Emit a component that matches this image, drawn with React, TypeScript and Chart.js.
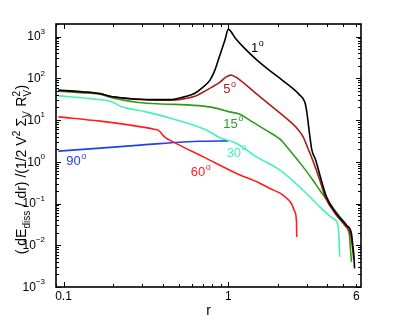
import React, { useEffect, useRef } from 'react';
import { Chart, registerables } from 'chart.js';

Chart.register(...registerables);

// ---- data ----
const r1 = [0.093, 0.126, 0.167, 0.192, 0.237, 0.335, 0.443, 0.546, 0.628, 0.703, 0.775, 0.83, 0.878, 0.916, 0.955, 1.0, 1.114, 1.262, 1.472, 1.74, 2.145, 2.72, 2.916, 3.0, 3.13, 3.22, 3.4, 3.6, 3.95, 4.54, 5.22, 5.6, 5.72, 5.8, 5.85];
const v1 = [52, 48, 43, 37, 33.5, 30.8, 30.8, 36.4, 44, 61.5, 90.6, 157, 305, 501, 824, 1490, 871, 515, 289, 166, 88, 39.5, 26.9, 15.5, 4.1, 1.9, 1.09, 0.48, 0.144, 0.0575, 0.03, 0.019, 0.0091, 0.0053, 0.0028];

const r5 = [0.093, 0.126, 0.167, 0.192, 0.237, 0.335, 0.443, 0.546, 0.628, 0.706, 0.796, 0.891, 0.968, 1.04, 1.11, 1.18, 1.472, 1.919, 2.366, 2.645, 2.85, 3.05, 3.2, 3.43, 3.6, 3.91, 4.49, 5.16, 5.54, 5.69, 5.78];
const v5 = [51, 47, 42.5, 36.5, 33, 30.3, 30, 32.6, 37, 47, 61.5, 81, 107, 119, 107, 91, 43.7, 18.5, 9.3, 6.05, 3.95, 2.08, 1.31, 0.63, 0.36, 0.134, 0.0553, 0.0286, 0.0174, 0.0085, 0.0046];

const r15 = [0.093, 0.126, 0.163, 0.205, 0.285, 0.386, 0.475, 0.706, 0.866, 1.02, 1.177, 1.411, 1.693, 2.06, 2.36, 2.85, 3.27, 3.6, 4.13, 4.75, 5.33, 5.46, 5.53, 5.6];
const v15 = [49, 45, 42, 33, 26.4, 24.3, 23.7, 21.5, 18.8, 15.7, 13.8, 8.9, 5.73, 3.48, 1.9, 0.755, 0.36, 0.208, 0.1, 0.048, 0.025, 0.0158, 0.0076, 0.004];

const r30 = [0.093, 0.145, 0.196, 0.226, 0.313, 0.475, 0.74, 0.891, 1.124, 1.486, 2.06, 2.85, 3.6, 4.33, 4.64, 4.7, 4.75];
const v30 = [38, 32.6, 27.4, 20.7, 15.9, 10.3, 5.7, 3.78, 2.75, 1.31, 0.63, 0.208, 0.083, 0.0437, 0.03, 0.0158, 0.0053];

const r60 = [0.093, 0.167, 0.254, 0.36, 0.375, 0.386, 0.41, 0.475, 0.706, 1.124, 1.556, 1.79, 2.06, 2.15, 2.42, 2.54, 2.6, 2.605];
const v60 = [11.9, 9.4, 7.55, 5.96, 5.73, 5.2, 3.96, 2.84, 1.31, 0.524, 0.307, 0.229, 0.177, 0.158, 0.1, 0.063, 0.033, 0.0158];

const r90 = [0.093, 0.167, 0.292, 0.475, 0.674, 1.0];
const v90 = [1.8, 2.12, 2.5, 2.9, 3.1, 3.17];

const seriesNames = ['1', '5', '15', '30', '60', '90'];
const seriesColors = ['#000000', '#a3231a', '#2b9c1c', '#44f2b4', '#ff1e1e', '#2040f0'];
const seriesR = [r1, r5, r15, r30, r60, r90];
const seriesV = [v1, v5, v15, v30, v60, v90];

// annotation anchors (data coords) for the angle labels
const labelR = [1.373, 0.934, 0.934, 0.978, 0.592, 0.1038];
const labelV = [530, 54.5, 8.05, 1.63, 0.548, 1.0];

const xTickValues = [0.1, 1, 6];
const xTickLabels = ['0.1', '1', '6'];
const yExponents = [-3, -2, -1, 0, 1, 2, 3];
const X_MIN = 0.09, X_MAX = 6.4, Y_MIN = 0.001, Y_MAX = 2000;

const FONT = '"Liberation Sans", Arial, Helvetica, sans-serif';

const axesPlugin = {
  id: 'matlabAxes',
  afterDatasetsDraw(chart: any) {
    const { ctx, chartArea: ca, scales } = chart;
    const xs = scales.x, ys = scales.y;
    ctx.save();

    // --- inward ticks on all four sides ---
    ctx.strokeStyle = '#000';
    ctx.lineWidth = 1;
    ctx.beginPath();
    for (let d = -2; d <= 1; d++) {
      for (let k = 1; k <= 9; k++) {
        const v = k * Math.pow(10, d);
        if (v < X_MIN || v > X_MAX) continue;
        const major = k === 1;
        const len = major ? 5 : 3;
        const px = Math.round(xs.getPixelForValue(v)) + 0.5;
        ctx.moveTo(px, ca.bottom); ctx.lineTo(px, ca.bottom - len);
        ctx.moveTo(px, ca.top); ctx.lineTo(px, ca.top + len);
      }
    }
    for (let d = -3; d <= 3; d++) {
      for (let k = 1; k <= 9; k++) {
        const v = k * Math.pow(10, d);
        if (v < Y_MIN || v > Y_MAX) continue;
        const major = k === 1;
        const len = major ? 5 : 3;
        const py = Math.round(ys.getPixelForValue(v)) + 0.5;
        ctx.moveTo(ca.left, py); ctx.lineTo(ca.left + len, py);
        ctx.moveTo(ca.right, py); ctx.lineTo(ca.right - len, py);
      }
    }
    ctx.stroke();

    // --- box ---
    ctx.lineWidth = 1.6;
    ctx.strokeRect(ca.left, ca.top, ca.right - ca.left, ca.bottom - ca.top);

    // --- x tick labels ---
    ctx.fillStyle = '#000';
    ctx.font = `12px ${FONT}`;
    ctx.textAlign = 'center';
    ctx.textBaseline = 'middle';
    xTickValues.forEach((v, i) => {
      ctx.fillText(xTickLabels[i], xs.getPixelForValue(v), ca.bottom + 10);
    });

    // --- y tick labels: 10^n ---
    yExponents.forEach((e) => {
      const py = ys.getPixelForValue(Math.pow(10, e));
      const sup = e < 0 ? '\u2212' + Math.abs(e) : String(e);
      ctx.font = `8px ${FONT}`;
      const sw = ctx.measureText(sup).width;
      const right = ca.left - 11;
      ctx.textAlign = 'left';
      ctx.textBaseline = 'middle';
      ctx.fillText(sup, right - sw, py - 5);
      ctx.font = `12px ${FONT}`;
      ctx.textAlign = 'right';
      ctx.fillText('10', right - sw, py + 0.5);
    });

    // --- x title ---
    ctx.font = `14px ${FONT}`;
    ctx.textAlign = 'center';
    ctx.textBaseline = 'alphabetic';
    ctx.fillText('r', (ca.left + ca.right) / 2, 315);

    // --- y title (rotated, with sub/superscripts) ---
    const segs: { t: string; m: string; t2?: string }[] = [
      { t: '( dE', m: 'n' },
      { t: 'diss', m: 'sub' },
      { t: ' / dr) /(1/2 V', m: 'n' },
      { t: '2', m: 'sup' },
      { t: ' \u03A3', m: 'n' },
      { t: 'V', m: 'sub' },
      { t: ' R', m: 'n' },
      { t: '2', m: 'supsub', t2: 'V' },
      { t: ')', m: 'n' },
    ];
    const mainF = `14px ${FONT}`, smallF = `10px ${FONT}`;
    const widthOf = (s: any) => {
      ctx.font = s.m === 'n' ? mainF : smallF;
      let w = ctx.measureText(s.t).width;
      if (s.t2) w = Math.max(w, ctx.measureText(s.t2).width);
      return w + (s.m === 'n' ? 0 : 0.5);
    };
    const total = segs.reduce((a, s) => a + widthOf(s), 0);
    ctx.translate(25.5, (ca.top + ca.bottom) / 2 + 14);
    ctx.rotate(-Math.PI / 2);
    ctx.textAlign = 'left';
    ctx.textBaseline = 'alphabetic';
    let x = -total / 2;
    segs.forEach((s) => {
      const w = widthOf(s);
      if (s.m === 'n') { ctx.font = mainF; ctx.fillText(s.t, x, 0); }
      else if (s.m === 'sub') { ctx.font = smallF; ctx.fillText(s.t, x, 4); }
      else if (s.m === 'sup') { ctx.font = smallF; ctx.fillText(s.t, x, -6); }
      else { ctx.font = smallF; ctx.fillText(s.t, x, -6); ctx.fillText(s.t2 as string, x, 5); }
      x += w;
    });
    ctx.restore();

    // --- angle labels ---
    ctx.save();
    seriesNames.forEach((n, i) => {
      const px = xs.getPixelForValue(labelR[i]);
      const py = ys.getPixelForValue(labelV[i]);
      ctx.fillStyle = seriesColors[i];
      ctx.textAlign = 'left';
      ctx.textBaseline = 'middle';
      ctx.font = `13px ${FONT}`;
      ctx.fillText(n, px, py);
      const w = ctx.measureText(n).width;
      ctx.font = `9px ${FONT}`;
      ctx.fillText('o', px + w + 0.5, py - 5);
    });
    ctx.restore();
  },
};

export default function App() {
  const ref = useRef<HTMLCanvasElement | null>(null);
  useEffect(() => {
    if (!ref.current) return;
    const datasets = seriesNames.map((n, i) => ({
      label: n + '\u00B0',
      data: seriesR[i].map((r, j) => ({ x: r, y: seriesV[i][j] })),
      borderColor: seriesColors[i],
      backgroundColor: seriesColors[i],
      borderWidth: 1.6,
      pointRadius: 0,
      cubicInterpolationMode: 'monotone',
      fill: false,
    }));
    const chart = new Chart(ref.current, {
      type: 'line',
      data: { datasets },
      options: {
        animation: false,
        responsive: false,
        devicePixelRatio: 1,
        layout: { padding: { left: 56, right: 38, top: 24, bottom: 36 } },
        plugins: { legend: { display: false }, tooltip: { enabled: false } },
        scales: {
          x: { type: 'logarithmic', min: X_MIN, max: X_MAX, display: false },
          y: { type: 'logarithmic', min: Y_MIN, max: Y_MAX, display: false },
        },
      },
      plugins: [axesPlugin],
    } as any);
    return () => chart.destroy();
  }, []);
  return (
    <div style={{ position: 'fixed', left: 0, top: 0, width: 399, height: 323, background: '#fff' }}>
      <canvas ref={ref} width={399} height={323} />
    </div>
  );
}
